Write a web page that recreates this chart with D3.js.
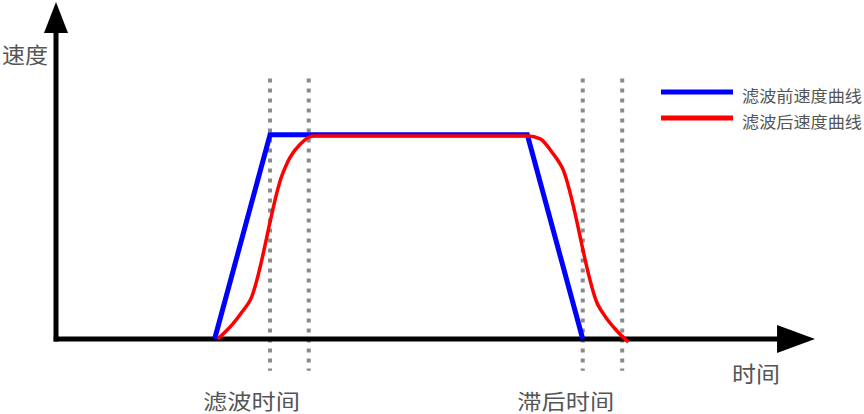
<!DOCTYPE html>
<html><head><meta charset="utf-8">
<script src="https://cdn.jsdelivr.net/npm/d3@7"></script>
<style>
html,body{margin:0;padding:0;background:#fff;}
text{font-family:"Noto Sans CJK SC","Noto Sans",sans-serif;fill:#555;}
</style></head>
<body><svg id="c" width="864" height="414"></svg>
<script>
// ---- data ----
const seriesNames = ["滤波前速度曲线", "滤波后速度曲线"];
const beforeT = [20.9, 28.2, 62.1, 69.4];
const beforeV = [0, 100, 100, 0];
const afterT = [21.3, 23.3, 24.5, 25.6, 29.8, 30.8, 32.1, 33.9, 62.2, 63.8, 65.3, 66.7, 71.4, 72.5, 73.8, 75.4];
const afterV = [0, 7.4, 13.2, 19.1, 80.4, 88.7, 95.1, 99.4, 99.4, 98, 91.7, 83.8, 16.7, 10.3, 4.4, -1.5];
const markerT = [28.2, 33.3, 69.4, 74.6];
const axisLabels = {y: "速度", x: "时间"};
const spanLabels = ["滤波时间", "滞后时间"];

const svg = d3.select("#c");
const x = d3.scaleLinear().domain([0, 100]).range([56, 815]);
const y = d3.scaleLinear().domain([0, 165]).range([339, 2]);

// dotted guide lines
svg.selectAll("line.guide").data(markerT).join("line")
  .attr("x1", d => x(d)).attr("x2", d => x(d))
  .attr("y1", y(127.5)).attr("y2", y(-15.5))
  .attr("stroke", "#8a8a8a").attr("stroke-width", 4)
  .attr("stroke-dasharray", "4,6");

// axes (domain only)
const xAxis = d3.axisBottom(x).tickValues([]).tickSizeOuter(0);
const gx = svg.append("g").attr("transform", `translate(0,${y(0)})`).call(xAxis);
gx.select(".domain").attr("stroke", "#000").attr("stroke-width", 5)
  .attr("d", `M${x(-0.3)},0H${x(97)}`);
const yAxis = d3.axisLeft(y).tickValues([]).tickSizeOuter(0);
const gy = svg.append("g").attr("transform", `translate(${x(0)},0)`).call(yAxis);
gy.select(".domain").attr("stroke", "#000").attr("stroke-width", 5)
  .attr("d", `M0,${y(-1.2)}V${y(150)}`);

// arrowheads
svg.append("path").attr("fill", "#000")
  .attr("d", `M${x(100)},${y(0)}L${x(95)},${y(0) - 14}L${x(95)},${y(0) + 14}Z`);
svg.append("path").attr("fill", "#000")
  .attr("d", `M${x(0)},${y(165)}L${x(0) - 12},${y(165) + 31}L${x(0) + 12},${y(165) + 31}Z`);

// curves
const line = d3.line().x(d => x(d[0])).y(d => y(d[1]));
const before = beforeT.map((t, i) => [t, beforeV[i]]);
const after = afterT.map((t, i) => [t, afterV[i]]);
svg.append("path").datum(before).attr("d", line)
  .attr("fill", "none").attr("stroke", "#0000ff").attr("stroke-width", 5).attr("stroke-linejoin", "miter");
svg.append("path").datum(after).attr("d", line.curve(d3.curveMonotoneX))
  .attr("fill", "none").attr("stroke", "#ff0000").attr("stroke-width", 3.5);

// legend
const colors = ["#0000ff", "#ff0000"];
const lg = svg.append("g");
seriesNames.forEach((n, i) => {
  const yy = 92 + i * 26;
  lg.append("line").attr("x1", 661).attr("x2", 733).attr("y1", yy).attr("y2", yy)
    .attr("stroke", colors[i]).attr("stroke-width", 5);
  lg.append("text").attr("x", 742).attr("y", yy + 3).attr("dominant-baseline", "central")
    .attr("font-size", 16).attr("textLength", 120).attr("lengthAdjust", "spacingAndGlyphs").text(n);
});

// axis labels
svg.append("text").attr("x", 2).attr("y", 53).attr("dominant-baseline", "central")
  .attr("font-size", 22).attr("textLength", 46).attr("lengthAdjust", "spacingAndGlyphs").text(axisLabels.y);
svg.append("text").attr("x", 732).attr("y", 372).attr("dominant-baseline", "central")
  .attr("font-size", 22).attr("textLength", 48).attr("lengthAdjust", "spacingAndGlyphs").text(axisLabels.x);
const spanX = [x(markerT[0]) - 18.5, x(markerT[2]) - 17];
spanLabels.forEach((s, i) => {
  svg.append("text").attr("x", spanX[i]).attr("y", 400).attr("text-anchor", "middle")
    .attr("dominant-baseline", "central")
    .attr("font-size", 21).attr("textLength", 97).attr("lengthAdjust", "spacingAndGlyphs").text(s);
});
</script></body></html>
